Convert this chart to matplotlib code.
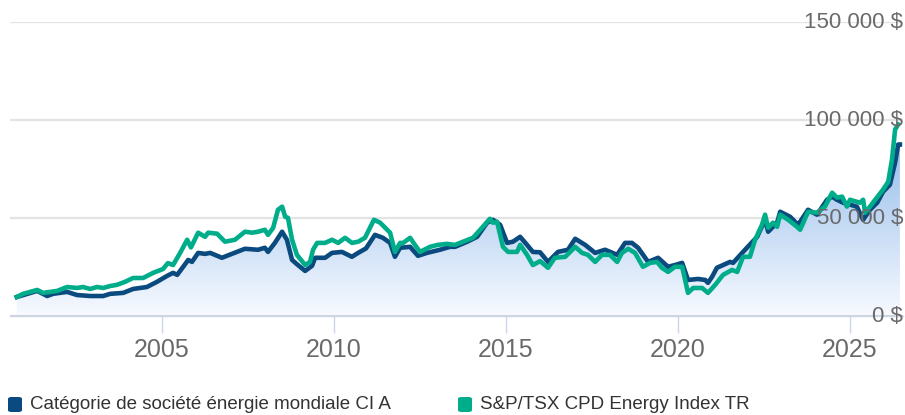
import numpy as np
import matplotlib
matplotlib.use("Agg")
import matplotlib.pyplot as plt
from matplotlib.patches import FancyBboxPatch
from matplotlib.transforms import blended_transform_factory

# growth of 10 000 $ (values in thousands of dollars)
fund_years = [2000.78, 2001.37, 2001.66, 2001.83, 2002.24, 2002.53, 2002.91, 2003.29, 2003.49,
              2003.87, 2004.16, 2004.56, 2004.85, 2005.15, 2005.32, 2005.44, 2005.61, 2005.76,
              2005.87, 2006.05, 2006.25, 2006.40, 2006.74, 2007.03, 2007.41, 2007.79, 2007.99,
              2008.08, 2008.28, 2008.49, 2008.63, 2008.78, 2008.95, 2009.16, 2009.36, 2009.45,
              2009.74, 2009.94, 2010.23, 2010.52, 2010.70, 2010.93, 2011.19, 2011.42, 2011.63,
              2011.77, 2011.92, 2012.21, 2012.44, 2012.70, 2013.08, 2013.37, 2013.52, 2013.87,
              2014.16, 2014.45, 2014.62, 2014.83, 2015.03, 2015.20, 2015.41, 2015.61, 2015.78,
              2015.99, 2016.22, 2016.51, 2016.80, 2017.01, 2017.30, 2017.59, 2017.88, 2018.23,
              2018.46, 2018.66, 2018.84, 2019.13, 2019.42, 2019.71, 2019.91, 2020.12, 2020.29,
              2020.58, 2020.79, 2020.87, 2020.99, 2021.13, 2021.31, 2021.51, 2021.60, 2021.89,
              2022.30, 2022.53, 2022.62, 2022.88, 2022.97, 2023.26, 2023.49, 2023.78, 2024.04,
              2024.33, 2024.48, 2024.62, 2024.80, 2025.00, 2025.20, 2025.38, 2025.58, 2025.79,
              2025.96, 2026.16, 2026.31, 2026.40, 2026.45]
fund_k = [9.7, 12.8, 10.2, 11.3, 12.3, 10.7, 10.2, 10.2, 11.3,
          11.8, 13.8, 14.8, 17.4, 20.5, 22.0, 21.0, 25.0, 28.6,
          27.6, 32.2, 31.7, 32.2, 29.7, 31.7, 34.3, 33.8, 34.8,
          32.7, 37.3, 43.0, 38.9, 28.6, 26.0, 23.0, 25.6, 29.7,
          29.7, 32.2, 32.7, 30.2, 32.2, 34.5, 41.4, 39.9, 37.3,
          30.2, 34.8, 35.3, 30.7, 32.2, 33.8, 35.3, 35.3, 37.9,
          40.4, 47.6, 49.1, 46.5, 37.3, 37.9, 40.4, 36.3, 32.7,
          32.5, 27.6, 32.7, 33.8, 39.4, 36.3, 32.2, 33.8, 31.2,
          37.3, 37.3, 34.8, 27.6, 29.7, 25.1, 26.0, 27.1, 18.4,
          18.9, 18.4, 16.9, 20.0, 24.6, 26.0, 27.6, 27.1, 32.7,
          40.4, 49.1, 43.0, 47.6, 53.2, 50.6, 46.5, 54.2, 51.7,
          59.3, 60.9, 59.3, 57.8, 56.8, 55.8, 49.1, 54.2, 57.8,
          63.4, 67.0, 78.3, 87.5, 87.5]

index_years = [2000.78, 2000.96, 2001.37, 2001.54, 2001.74, 2001.95, 2002.24, 2002.53, 2002.70,
               2002.91, 2003.11, 2003.29, 2003.49, 2003.69, 2003.92, 2004.16, 2004.45, 2004.74,
               2005.03, 2005.17, 2005.32, 2005.52, 2005.73, 2005.84, 2006.05, 2006.25, 2006.34,
               2006.60, 2006.83, 2007.12, 2007.41, 2007.62, 2007.79, 2007.99, 2008.08, 2008.23,
               2008.37, 2008.49, 2008.58, 2008.66, 2008.78, 2008.92, 2009.16, 2009.30, 2009.39,
               2009.51, 2009.74, 2009.94, 2010.12, 2010.32, 2010.52, 2010.70, 2010.90, 2011.16,
               2011.34, 2011.63, 2011.77, 2011.92, 2012.01, 2012.21, 2012.35, 2012.50, 2012.79,
               2013.02, 2013.28, 2013.52, 2013.75, 2014.04, 2014.30, 2014.53, 2014.62, 2014.74,
               2014.91, 2015.06, 2015.32, 2015.41, 2015.61, 2015.78, 2015.99, 2016.22, 2016.42,
               2016.72, 2017.01, 2017.21, 2017.38, 2017.59, 2017.79, 2018.02, 2018.23, 2018.37,
               2018.55, 2018.75, 2018.98, 2019.19, 2019.39, 2019.53, 2019.71, 2019.91, 2020.12,
               2020.29, 2020.44, 2020.70, 2020.87, 2021.08, 2021.31, 2021.57, 2021.72, 2021.89,
               2022.09, 2022.24, 2022.44, 2022.53, 2022.62, 2022.76, 2022.88, 2022.97, 2023.20,
               2023.46, 2023.55, 2023.78, 2024.04, 2024.27, 2024.48, 2024.62, 2024.77, 2024.91,
               2025.00, 2025.20, 2025.29, 2025.38, 2025.44, 2025.58, 2025.73, 2025.96, 2026.11,
               2026.22, 2026.31, 2026.40]
index_k = [9.7, 11.3, 13.3, 11.8, 12.3, 12.8, 14.8, 14.3, 14.8,
           13.8, 14.8, 14.3, 15.3, 15.9, 17.4, 19.4, 19.4, 22.0,
           24.0, 27.0, 26.0, 32.0, 38.9, 35.0, 42.5, 40.4, 42.5,
           42.0, 37.9, 38.9, 43.0, 42.5, 43.0, 44.0, 41.4, 45.0,
           54.2, 55.8, 50.6, 50.1, 38.9, 31.2, 26.0, 27.6, 33.8,
           37.3, 37.3, 38.9, 37.3, 39.9, 37.3, 37.9, 39.9, 49.1,
           47.6, 42.5, 32.7, 37.3, 37.3, 39.9, 36.3, 32.7, 35.3,
           36.3, 36.8, 36.3, 37.9, 39.9, 45.0, 49.6, 47.6, 48.1,
           35.3, 32.7, 32.7, 36.3, 31.2, 26.0, 28.0, 24.6, 29.7,
           30.2, 35.3, 32.2, 31.2, 27.6, 31.2, 31.2, 27.6, 32.2,
           34.3, 32.2, 25.1, 27.1, 27.6, 24.6, 22.5, 25.1, 25.1,
           11.8, 14.3, 14.3, 11.8, 15.9, 21.0, 23.5, 22.5, 30.2,
           30.2, 38.9, 46.5, 51.7, 45.0, 47.6, 45.5, 51.7, 49.1,
           45.5, 44.0, 53.2, 52.7, 55.8, 62.9, 60.4, 60.9, 55.8,
           59.3, 58.3, 57.8, 59.3, 52.7, 55.8, 59.3, 64.5, 68.5,
           79.8, 95.1, 97.7]

x_ticks = [2005, 2010, 2015, 2020, 2025]
y_ticks = [0, 50, 100, 150]
y_labels = ["0 $", "50 000 $", "100 000 $", "150 000 $"]

fund_name = "Catégorie de société énergie mondiale CI A"
index_name = "S&P/TSX CPD Energy Index TR"

FUND_COLOR = "#0b4a7e"
INDEX_COLOR = "#00ad8a"
TEXT_COLOR = "#6a6a6a"
FONT = "Liberation Sans"

fig = plt.figure(figsize=(9.05, 4.15), dpi=100)
ax = fig.add_axes([10 / 905, 99 / 415, 893 / 905, 294 / 415])

x0, x1 = 2000.58, 2026.54

# gradient area under the fund line
grad_top = 100
n = 256
t = np.linspace(0, 1, n)[:, None]
bottom_rgb = np.array([0.97, 0.98, 1.0])
top_rgb = np.array([0.54, 0.71, 0.91])
grad = bottom_rgb + (top_rgb - bottom_rgb) * t
grad = np.repeat(grad[:, None, :], 2, axis=1).reshape(n, 2, 3)
area = ax.fill_between(fund_years, fund_k, 0, facecolor="none", edgecolor="none")
im = ax.imshow(grad, extent=[x0, x1, 0, grad_top], origin="lower", aspect="auto",
               interpolation="bilinear", zorder=1)
im.set_clip_path(area.get_paths()[0], transform=ax.transData)

ax.plot(fund_years, fund_k, color=FUND_COLOR, lw=3.3, zorder=3, solid_joinstyle="round")
ax.plot(index_years, index_k, color=INDEX_COLOR, lw=3.3, zorder=4, solid_joinstyle="round")

for v in y_ticks:
    ax.axhline(v, color="#e3e3e3", lw=1.6, zorder=0)
ax.axhline(0, color="#cfcfcf", lw=2, zorder=2)

ax.set_xlim(x0, x1)
ax.set_ylim(0, 150)
for s in ["top", "right", "left"]:
    ax.spines[s].set_visible(False)
ax.spines["bottom"].set_color("#ccd6eb")
ax.spines["bottom"].set_linewidth(1)
ax.set_yticks([])
ax.set_xticks(x_ticks)
ax.set_xticklabels([str(x) for x in x_ticks], fontsize=18, color=TEXT_COLOR, family=FONT)
ax.tick_params(axis="x", length=12.5, width=1, color="#ccd6eb", pad=3)

trans = blended_transform_factory(ax.transAxes, ax.transData)
for v, lab in zip(y_ticks, y_labels):
    ax.text(1.0, v, lab, transform=trans, ha="right", va="center", fontsize=16,
            color=TEXT_COLOR, family=FONT, zorder=10, clip_on=False)

# legend
for (px, color, label) in [(8, FUND_COLOR, fund_name), (458, INDEX_COLOR, index_name)]:
    box = FancyBboxPatch((px / 905, 3 / 415), 14 / 905, 15 / 415,
                         boxstyle="round,pad=0,rounding_size=0.004",
                         transform=fig.transFigure, facecolor=color, edgecolor="none")
    fig.patches.append(box)
    fig.text((px + 22) / 905, 10.5 / 415, label, ha="left", va="center",
             fontsize=13.5, color="#333333", family=FONT)

fig.savefig("out.png", dpi=100)
